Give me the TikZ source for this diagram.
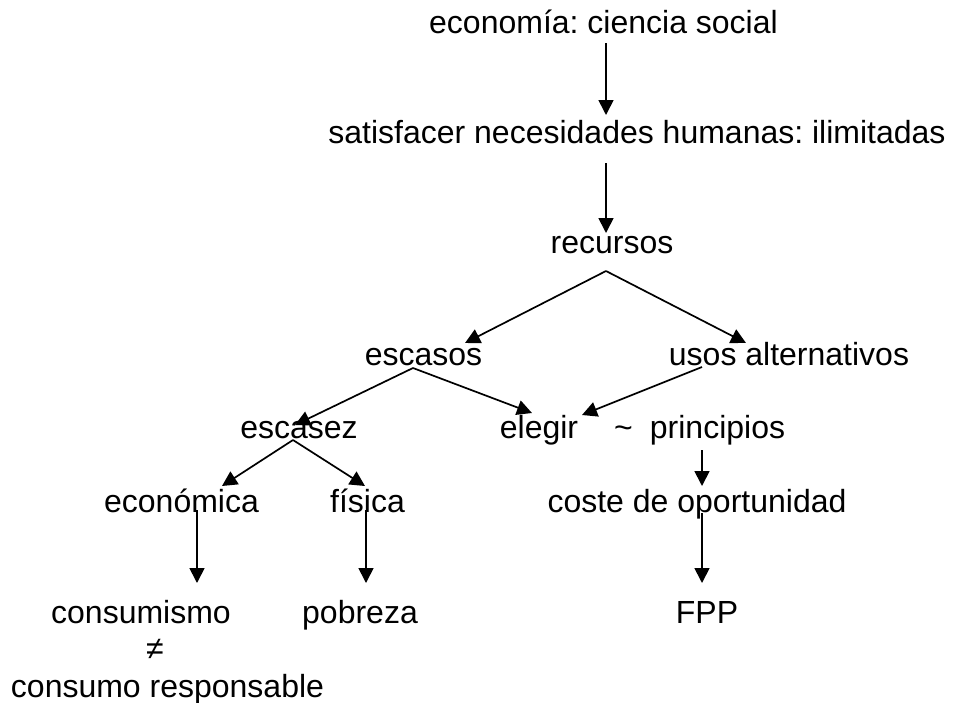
\documentclass[tikz,border=0pt]{standalone}
\usepackage{fontspec}
\setmainfont{Liberation Sans}
\usetikzlibrary{arrows.meta}
\tikzset{
  lbl/.style={inner sep=0pt, anchor=base, font=\fontsize{32}{38}\selectfont\frenchspacing},
  arr/.style={line width=1.7pt, -{Triangle[length=15pt,width=15pt]}}
}
\begin{document}
\begin{tikzpicture}[x=1pt,y=-1pt]
\path[use as bounding box] (0,0) rectangle (953,702);
% nodes
\node[lbl] (econ) at (603.5,33) {economía: ciencia social};
\node[lbl] (satis) at (637,143) {satisfacer necesidades humanas: ilimitadas};
\node[lbl] (rec) at (612,253) {recursos};
\node[lbl] (escasos) at (423.5,365) {escasos};
\node[lbl] (usos) at (789,365) {usos alternativos};
\node[lbl] (escasez) at (299,438) {escasez};
\node[lbl] (elegir) at (539,438) {elegir};
\node[lbl] (tilde) at (623.5,438) {\textasciitilde};
\node[lbl] (princ) at (717.5,438) {principios};
\node[lbl] (econom) at (181.5,512) {económica};
\node[lbl] (fisica) at (367.5,512) {física};
\node[lbl] (coste) at (697,512) {coste de oportunidad};
\node[lbl] (consumismo) at (141,623) {consumismo};
\node[lbl] (pobreza) at (360,623) {pobreza};
\node[lbl] (fpp) at (707,623) {FPP};
\node[lbl] (neq) at (155,659) {≠};
\node[lbl] (resp) at (167.5,697) {consumo responsable};
% connectors
\draw[arr] ([shift={(2.5,10)}]econ.base) -- ([shift={(-31,-28)}]satis.base);
\draw[arr] ([shift={(-31,20)}]satis.base) -- ([shift={(-6,-20)}]rec.base);
\draw[arr] ([shift={(-6,18)}]rec.base) -- ([shift={(41.5,-22)}]escasos.base);
\draw[arr] ([shift={(-6,18)}]rec.base) -- ([shift={(-43,-22)}]usos.base);
\draw[arr] ([shift={(-10.5,3)}]escasos.base) -- ([shift={(-4,-13)}]escasez.base);
\draw[arr] ([shift={(-10.5,3)}]escasos.base) -- ([shift={(-7,-25)}]elegir.base);
\draw[arr] ([shift={(-87,2)}]usos.base) -- ([shift={(43,-23)}]elegir.base);
\draw[arr] ([shift={(-6,2)}]escasez.base) -- ([shift={(40.5,-26)}]econom.base);
\draw[arr] ([shift={(-6,2)}]escasez.base) -- ([shift={(-2.5,-26)}]fisica.base);
\draw[arr] ([shift={(15.5,-2)}]econom.base) -- ([shift={(56,-40)}]consumismo.base);
\draw[arr] ([shift={(-1.5,-2)}]fisica.base) -- ([shift={(6,-40)}]pobreza.base);
\draw[arr] ([shift={(-15.5,12)}]princ.base) -- ([shift={(5,-26)}]coste.base);
\draw[arr] ([shift={(5,1)}]coste.base) -- ([shift={(-5,-40)}]fpp.base);
\end{tikzpicture}
\end{document}
